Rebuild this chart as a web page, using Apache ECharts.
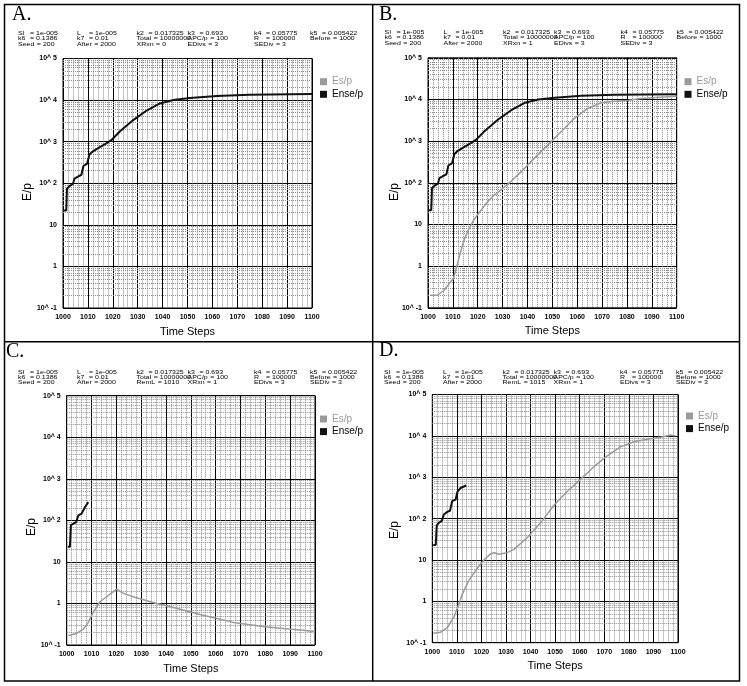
<!DOCTYPE html>
<html><head><meta charset="utf-8">
<script src="https://cdn.jsdelivr.net/npm/echarts@6/dist/echarts.min.js"></script>
<style>html,body{margin:0;padding:0;background:#fff}#c{width:747px;height:686px}</style>
</head><body><div id="c"></div>
<script>
// ---------- data ----------
const xTickValues = [1000,1010,1020,1030,1040,1050,1060,1070,1080,1090,1100];
const yTickValues = [0.1,1,10,100,1000,10000,100000];
const yTickLabels = ['10^ -1','1','10','10^ 2','10^ 3','10^ 4','10^ 5'];
const minorFactors = [2,3,4,5,6,7,8,9];
const seriesNames = ['Es/p','Ense/p'];
const panelLetters = ['A.','B.','C.','D.'];

// Panel A
const ensepA_t = [1000.3,1001.3,1001.6,1002.7,1004.0,1004.6,1006.0,1007.4,1008.2,1009.7,1010.6,1012.0,1014.8,1017.4,1019.5,1022.8,1028.2,1033.6,1038.9,1044.3,1051,1061.7,1075,1100];
const ensepA_v = [22,22,75,86,96,130,145,160,260,295,490,585,740,910,1100,1750,3300,5600,8300,10000,11200,12500,13500,14000];
// Panel B
const ensepB_t = [1000.3,1001.3,1001.6,1002.7,1004.0,1004.6,1006.0,1007.4,1008.2,1009.7,1010.6,1012.0,1014.8,1017.4,1019.5,1022.8,1028.2,1033.6,1038.9,1044.3,1051,1061.7,1075,1100];
const ensepB_v = [22,22,75,86,96,130,145,160,260,295,490,585,740,910,1100,1750,3300,5600,8300,10000,11000,12300,13000,13300];
const espB_t = [1000.8,1003.8,1006.4,1009.1,1010.2,1011.5,1012.5,1014.5,1016.5,1018.5,1020.2,1023.0,1026.5,1030.3,1033.5,1037.3,1042.6,1048,1053.4,1058.7,1064.1,1069.4,1074.8,1080.2,1085.5,1100];
const espB_v = [0.2,0.2,0.26,0.42,0.5,0.95,1.65,4.2,8,13,18,30,50,75,110,180,380,790,1650,3450,6000,8200,9100,9500,10500,12000];
// Panel C
const ensepC_t = [1000.4,1001.3,1001.7,1002.7,1003.8,1004.7,1006.0,1006.7,1007.4,1008.7];
const ensepC_v = [23,23,77,83,91,132,145,150,210,275];
const espC_t = [1000.7,1004,1006.7,1008.7,1010.7,1013.4,1016.1,1018.1,1020.1,1022.8,1026.8,1036.2,1040.3,1053.7,1067.1,1080.5,1093.9,1100];
const espC_v = [0.17,0.19,0.24,0.35,0.62,1.1,1.45,1.8,2.2,1.75,1.45,1.0,0.88,0.54,0.35,0.27,0.23,0.21];
// Panel D
const ensepD_t = [1000.4,1001.4,1001.8,1002.7,1003.8,1004.7,1006.1,1007.2,1008.1,1009.5,1010.2,1011.5,1013.8];
const ensepD_v = [23,23,69,80,87,126,145,155,265,290,440,550,630];
const espD_t = [1000.4,1003.4,1006.1,1008.8,1010.9,1012.2,1014.9,1018.3,1021,1023.7,1025.1,1027.1,1030.5,1033.2,1038.7,1044.1,1049.5,1055,1060.4,1065.8,1071.2,1076.7,1082.1,1087.5,1092.9,1097,1099];
const espD_v = [0.17,0.18,0.23,0.42,0.87,1.5,3.2,6.3,10,14,15,13.7,15,18,35,79,210,460,900,1800,3300,5500,7200,8300,9300,10500,10000];

// parameters text
const paramsA = [
  [['SI','1e-005'],['L','1e-005'],['k2','0.017325'],['k3','0.693'],['k4','0.05775'],['k5','0.005422']],
  [['k6','0.1386'],['k7','0.01'],['Total','10000000'],['APC/p','100'],['R','100000'],['Before','1000']],
  [['Seed','200'],['After','2000'],['XRxn','0'],['EDivs','3'],['SEDiv','3']]
];
const paramsB = [
  [['SI','1e-005'],['L','1e-005'],['k2','0.017325'],['k3','0.693'],['k4','0.05775'],['k5','0.005422']],
  [['k6','0.1386'],['k7','0.01'],['Total','10000000'],['APC/p','100'],['R','100000'],['Before','1000']],
  [['Seed','200'],['After','2000'],['XRxn','1'],['EDivs','3'],['SEDiv','3']]
];
const paramsC = [
  [['SI','1e-005'],['L','1e-005'],['k2','0.017325'],['k3','0.693'],['k4','0.05775'],['k5','0.005422']],
  [['k6','0.1386'],['k7','0.01'],['Total','10000000'],['APC/p','100'],['R','100000'],['Before','1000']],
  [['Seed','200'],['After','2000'],['RemL','1010'],['XRxn','1'],['EDivs','3'],['SEDiv','3']]
];
const paramsD = [
  [['SI','1e-005'],['L','1e-005'],['k2','0.017325'],['k3','0.693'],['k4','0.05775'],['k5','0.005422']],
  [['k6','0.1386'],['k7','0.01'],['Total','10000000'],['APC/p','100'],['R','100000'],['Before','1000']],
  [['Seed','200'],['After','2000'],['RemL','1015'],['XRxn','1'],['EDivs','3'],['SEDiv','3']]
];

// ---------- layout ----------
const FONT = 'Liberation Sans, Arial, sans-serif';
const panels = [
  {grid:{left:63, top:58.5, width:249, height:249.5}, letter:[12,15], param:{x0:18, y0:33.8}, legend:[320,76.7], ylab:[28,192]},
  {grid:{left:428, top:57.8, width:248.7, height:250}, letter:[379,15], param:{x0:384.5, y0:32.8}, legend:[684.5,76.7], ylab:[394.5,192]},
  {grid:{left:66.7, top:395.7, width:248.3, height:249.3}, letter:[6,352], param:{x0:18, y0:372.6}, legend:[320,414], ylab:[32,527]},
  {grid:{left:432.3, top:394.5, width:245.7, height:248.2}, letter:[379,351], param:{x0:384, y0:372}, legend:[686,411], ylab:[394.5,530]}
];
const colOffsets = [0, 59, 118.5, 169.5, 236, 292];
const paramFont = 7;
const rowGap = 5.1;

const chart = echarts.init(document.getElementById('c'), null, {renderer:'canvas'});
const ctx = document.createElement('canvas').getContext('2d');
ctx.font = paramFont + 'px "Liberation Sans"';

function lineSeries(name, idx, ts, vs, color, width){
  return {type:'line', name, xAxisIndex:idx, yAxisIndex:idx, data: ts.map((t,i)=>[t,vs[i]]),
    symbol:'none', showSymbol:false, lineStyle:{color, width}, itemStyle:{color}, z:5, animation:false};
}
const GRAY = '#9a9a9a', BLACK = '#111';
const minorVals = [];
for (let e=-1; e<5; e++) minorFactors.forEach(f=>minorVals.push(+(f*Math.pow(10,e)).toPrecision(3)));

const grids=[], xAxes=[], yAxes=[], series=[], legends=[], graphics=[];
panels.forEach((p,i)=>{
  grids.push(Object.assign({show:true, borderColor:'#000', borderWidth:1, backgroundColor:'#fff'}, p.grid));
  xAxes.push({type:'value', gridIndex:i, min:1000, max:1100, interval:10,
    axisLine:{show:false}, axisTick:{show:false},
    axisLabel:{fontSize:7, color:'#000', fontFamily:FONT, margin:6, fontWeight:'bold', formatter:v=>String(v)},
    splitLine:{show:true, lineStyle:{color:'#000', width:1}},
    minorTick:{show:false, splitNumber:5},
    minorSplitLine:{show:true, lineStyle:{color:'#8c8c8c', type:'dotted', width:1}},
    name:'Time Steps', nameLocation:'middle', nameGap:18,
    nameTextStyle:{fontSize:11, color:'#000', fontFamily:FONT}});
  yAxes.push({type:'log', logBase:10, gridIndex:i, min:0.1, max:100000, splitNumber:6,
    axisLine:{show:false}, axisTick:{show:false},
    axisLabel:{fontSize:7, color:'#000', fontFamily:FONT, margin:6, fontWeight:'bold',
      formatter:v=>yTickLabels[Math.round(Math.log10(v))+1]},
    splitLine:{show:true, lineStyle:{color:'#000', width:1}}});
  series.push({type:'line', name:'_minor'+i, xAxisIndex:i, yAxisIndex:i, data:[], silent:true, z:1,
    markLine:{silent:true, symbol:['none','none'], label:{show:false}, animation:false,
      lineStyle:{color:'#8c8c8c', type:'dotted', width:1},
      data:minorVals.map(v=>({yAxis:v}))}});
  legends.push({left:p.legend[0], top:p.legend[1], padding:0, orient:'vertical', itemWidth:7, itemHeight:7, itemGap:2.6,
    icon:'rect', selectedMode:false, textStyle:{fontSize:10, fontFamily:FONT},
    data:[{name:seriesNames[0], textStyle:{color:'#999'}},{name:seriesNames[1], textStyle:{color:'#000'}}]});
  graphics.push({type:'text', left:p.letter[0], top:p.letter[1]-10, style:{text:panelLetters[i], font:'20px "Liberation Serif"', fill:'#000'}});
  graphics.push({type:'text', x:p.ylab[0], y:p.ylab[1], rotation:Math.PI/2,
    style:{text:'E/p', font:'12px "Liberation Sans"', fill:'#000', align:'center', verticalAlign:'middle'}});
  const prm = [paramsA,paramsB,paramsC,paramsD][i];
  prm.forEach((row,r)=>{
    row.forEach((cell,c)=>{
      const x = p.param.x0 + colOffsets[c];
      const y = p.param.y0 + r*rowGap;
      const w = ctx.measureText(cell[0]).width;
      const vx = x + Math.max(12, w + 2.5);
      graphics.push({type:'text', x, y, scaleY:0.8, style:{text:cell[0], font:paramFont+'px "Liberation Sans"', fill:'#000', verticalAlign:'middle'}});
      graphics.push({type:'text', x:vx, y, scaleY:0.8, style:{text:'= '+cell[1], font:paramFont+'px "Liberation Sans"', fill:'#000', verticalAlign:'middle'}});
    });
  });
});
series.push(lineSeries('Ense/p',0,ensepA_t,ensepA_v,BLACK,2));
series.push(lineSeries('Es/p',1,espB_t,espB_v,GRAY,1.5));
series.push(lineSeries('Ense/p',1,ensepB_t,ensepB_v,BLACK,2));
series.push(lineSeries('Es/p',2,espC_t,espC_v,GRAY,1.5));
series.push(lineSeries('Ense/p',2,ensepC_t,ensepC_v,BLACK,2));
series.push(lineSeries('Es/p',3,espD_t,espD_v,GRAY,1.5));
series.push(lineSeries('Ense/p',3,ensepD_t,ensepD_v,BLACK,2));

// frame
graphics.push({type:'rect', shape:{x:4.5,y:4.5,width:735,height:676.5}, style:{fill:'none', stroke:'#000', lineWidth:1.5}});
graphics.push({type:'line', shape:{x1:372.7,y1:4.5,x2:372.7,y2:681}, style:{stroke:'#000', lineWidth:1.5}});
graphics.push({type:'line', shape:{x1:4.5,y1:341.7,x2:739.5,y2:341.7}, style:{stroke:'#000', lineWidth:1.5}});

chart.setOption({animation:false, backgroundColor:'#fff', grid:grids, xAxis:xAxes, yAxis:yAxes, series, legend:legends, graphic:graphics});
</script></body></html>
